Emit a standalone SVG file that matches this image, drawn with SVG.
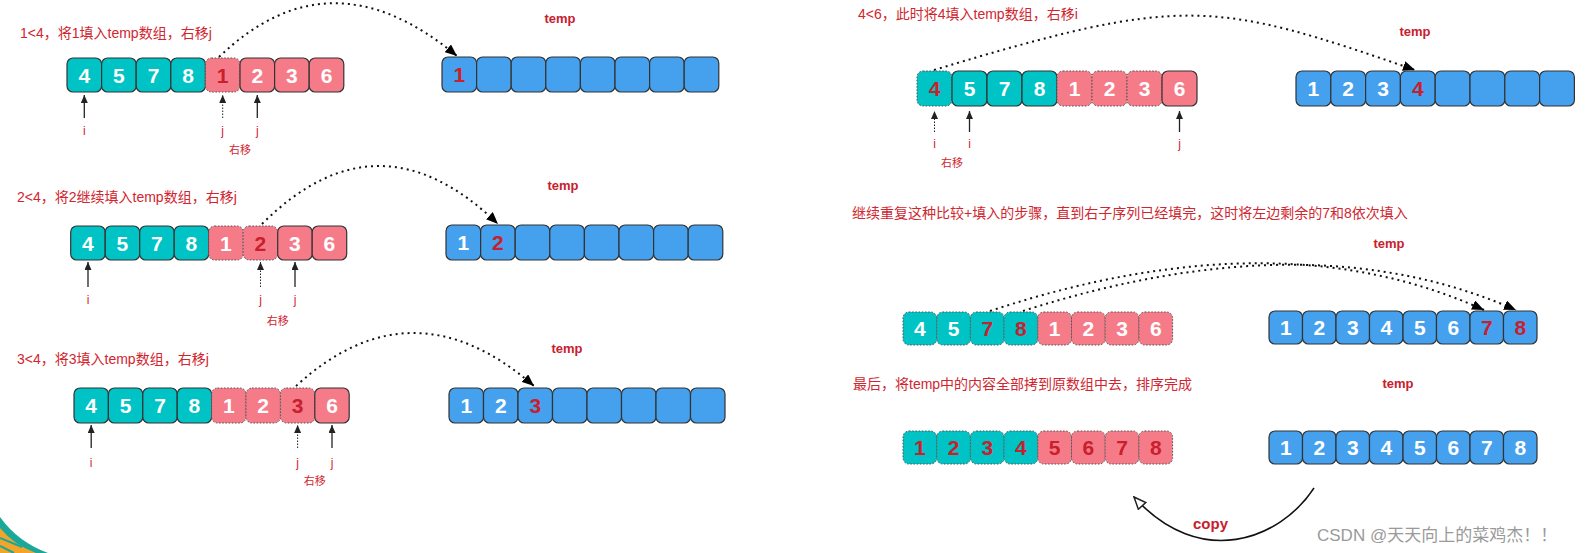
<svg xmlns="http://www.w3.org/2000/svg" width="1595" height="553" viewBox="0 0 1595 553">
<style>
rect{stroke:#333;stroke-width:1.2}
.t{fill:#00C3C5}.p{fill:#F67B88}.b{fill:#45A0EE}
.d{stroke-dasharray:1.6 1.6;stroke-width:1;stroke:#555}
.n{font:bold 21px "Liberation Sans",sans-serif;fill:#fff;text-anchor:middle}
.r{fill:#C8202D}
.ttl{font-size:14px;fill:#D0262F;font-family:"Liberation Sans","Noto Sans CJK SC",sans-serif}
.tmp{font:bold 13px "Liberation Sans",sans-serif;fill:#C8202D;text-anchor:middle}
.lb{font-size:12px;fill:#D0262F;text-anchor:middle;font-family:"Liberation Sans","Noto Sans CJK SC",sans-serif}
.sm{font-size:11px}
.cv{fill:none;stroke:#111;stroke-width:2;stroke-dasharray:2 4;marker-end:url(#ah)}
.pt{stroke:#222;stroke-width:1.3;fill:none;marker-end:url(#pa)}
.dt{stroke-dasharray:1.5 1.5;stroke-width:1}
.cp{fill:none;stroke:#111;stroke-width:1.6;marker-end:url(#oa)}
</style>
<defs>
<marker id="ah" viewBox="0 0 12 10" markerWidth="12" markerHeight="10" refX="12" refY="5" orient="auto" markerUnits="userSpaceOnUse"><path d="M0,0 L12,5 L0,10 Z" fill="#000"/></marker>
<marker id="pa" viewBox="0 0 8 7" markerWidth="8" markerHeight="7" refX="8" refY="3.5" orient="auto" markerUnits="userSpaceOnUse"><path d="M0,0 L8,3.5 L0,7 Z" fill="#222"/></marker>
<marker id="oa" viewBox="0 0 14 12" markerWidth="14" markerHeight="12" refX="13" refY="6" orient="auto" markerUnits="userSpaceOnUse"><path d="M1,1 L13,6 L1,11 Z" fill="#fff" stroke="#222" stroke-width="1.5"/></marker>
</defs>
<g id="corner">
<path d="M0,517 Q18,542 48,553 L0,553 Z" fill="#1AA89A" stroke="none"/>
<path d="M0,528 Q14,545 36,553 L0,553 Z" fill="#F4A428" stroke="none"/>
<path d="M0,538 L22,547 M0,546 L14,553" stroke="#1AA89A" stroke-width="2"/>
</g>

<g id="texts">
<text class="ttl" x="20" y="38">1&lt;4，将1填入temp数组，右移j</text>
<text class="ttl" x="17" y="202">2&lt;4，将2继续填入temp数组，右移j</text>
<text class="ttl" x="17" y="364">3&lt;4，将3填入temp数组，右移j</text>
<text class="ttl" x="858" y="19">4&lt;6，此时将4填入temp数组，右移i</text>
<text class="ttl" x="852" y="218">继续重复这种比较+填入的步骤，直到右子序列已经填完，这时将左边剩余的7和8依次填入</text>
<text class="ttl" x="853" y="389">最后，将temp中的内容全部拷到原数组中去，排序完成</text>
<text class="tmp" x="560" y="23">temp</text>
<text class="tmp" x="563" y="190">temp</text>
<text class="tmp" x="567" y="353">temp</text>
<text class="tmp" x="1415" y="36">temp</text>
<text class="tmp" x="1389" y="248">temp</text>
<text class="tmp" x="1398" y="388">temp</text>
<text class="lb" x="84.3" y="135">i</text><text class="lb" x="222.7" y="135">j</text><text class="lb" x="257.3" y="135">j</text><text class="lb sm" x="240" y="154">右移</text>
<text class="lb" x="88" y="304">i</text><text class="lb" x="260.5" y="304">j</text><text class="lb" x="295" y="304">j</text><text class="lb sm" x="277.7" y="325">右移</text>
<text class="lb" x="91.2" y="467">i</text><text class="lb" x="297.6" y="467">j</text><text class="lb" x="332" y="467">j</text><text class="lb sm" x="314.8" y="485">右移</text>
<text class="lb" x="934.5" y="148">i</text><text class="lb" x="969.5" y="148">i</text><text class="lb" x="1179.5" y="148">j</text><text class="lb sm" x="952" y="167">右移</text>
<text x="1193" y="529" style="font:bold 15px 'Liberation Sans',sans-serif;fill:#C8202D">copy</text>
<text x="1317" y="541" style="font-size:17px;fill:#9a9a9a;font-family:'Liberation Sans','Noto Sans CJK SC',sans-serif">CSDN @天天向上的菜鸡杰！！</text>
</g>

<g id="connectors">
<path class="cv" d="M219,57 Q330,-50 457,56"/>
<path class="cv" d="M262,224 Q378,108 498,224"/>
<path class="cv" d="M296,386 Q412,280 534,386"/>
<path class="cv" d="M934,70 C1183,-5 1213,0 1415,70"/>
<path class="cv" d="M990,311 C1190,245 1352,250 1484,310"/>
<path class="cv" d="M1023,311 C1223,247 1384,252 1516,310"/>
<path class="pt" d="M84.3,118 L84.3,95"/>
<path class="pt dt" d="M222.7,118 L222.7,95"/>
<path class="pt" d="M257.3,118 L257.3,95"/>
<path class="pt" d="M88,287 L88,262"/>
<path class="pt dt" d="M260.5,287 L260.5,262"/>
<path class="pt" d="M295,287 L295,262"/>
<path class="pt" d="M91.2,448 L91.2,425"/>
<path class="pt dt" d="M297.6,448 L297.6,425"/>
<path class="pt" d="M332,448 L332,425"/>
<path class="pt dt" d="M934.5,132 L934.5,111"/>
<path class="pt" d="M969.5,132 L969.5,111"/>
<path class="pt" d="M1179.5,132 L1179.5,111"/>
<path class="cp" d="M1314,488 C1280,540 1200,570 1134,497"/>
</g>

<g id="arr1">
<g id="a1c1"><rect class="t" x="67" y="58" width="34.6" height="34" rx="6"/><text class="n" x="84.3" y="82.5">4</text></g>
<g id="a1c2"><rect class="t" x="101.6" y="58" width="34.6" height="34" rx="6"/><text class="n" x="118.9" y="82.5">5</text></g>
<g id="a1c3"><rect class="t" x="136.2" y="58" width="34.6" height="34" rx="6"/><text class="n" x="153.5" y="82.5">7</text></g>
<g id="a1c4"><rect class="t" x="170.8" y="58" width="34.6" height="34" rx="6"/><text class="n" x="188.1" y="82.5">8</text></g>
<g id="a1c5"><rect class="p d" x="205.4" y="58" width="34.6" height="34" rx="6"/><text class="n r" x="222.7" y="82.5">1</text></g>
<g id="a1c6"><rect class="p" x="240" y="58" width="34.6" height="34" rx="6"/><text class="n" x="257.3" y="82.5">2</text></g>
<g id="a1c7"><rect class="p" x="274.6" y="58" width="34.6" height="34" rx="6"/><text class="n" x="291.9" y="82.5">3</text></g>
<g id="a1c8"><rect class="p" x="309.2" y="58" width="34.6" height="34" rx="6"/><text class="n" x="326.5" y="82.5">6</text></g>
</g>
<g id="tmp1">
<g id="t1c1"><rect class="b" x="442" y="57" width="34.6" height="35" rx="6"/><text class="n r" x="459.3" y="82">1</text></g>
<g id="t1c2"><rect class="b" x="476.6" y="57" width="34.6" height="35" rx="6"/></g>
<g id="t1c3"><rect class="b" x="511.2" y="57" width="34.6" height="35" rx="6"/></g>
<g id="t1c4"><rect class="b" x="545.8" y="57" width="34.6" height="35" rx="6"/></g>
<g id="t1c5"><rect class="b" x="580.4" y="57" width="34.6" height="35" rx="6"/></g>
<g id="t1c6"><rect class="b" x="615" y="57" width="34.6" height="35" rx="6"/></g>
<g id="t1c7"><rect class="b" x="649.6" y="57" width="34.6" height="35" rx="6"/></g>
<g id="t1c8"><rect class="b" x="684.2" y="57" width="34.6" height="35" rx="6"/></g>
</g>

<g id="arr2">
<g id="a2c1"><rect class="t" x="70.7" y="226" width="34.5" height="34" rx="6"/><text class="n" x="87.95" y="250.5">4</text></g>
<g id="a2c2"><rect class="t" x="105.2" y="226" width="34.5" height="34" rx="6"/><text class="n" x="122.45" y="250.5">5</text></g>
<g id="a2c3"><rect class="t" x="139.7" y="226" width="34.5" height="34" rx="6"/><text class="n" x="156.95" y="250.5">7</text></g>
<g id="a2c4"><rect class="t" x="174.2" y="226" width="34.5" height="34" rx="6"/><text class="n" x="191.45" y="250.5">8</text></g>
<g id="a2c5"><rect class="p d" x="208.7" y="226" width="34.5" height="34" rx="6"/><text class="n" x="225.95" y="250.5">1</text></g>
<g id="a2c6"><rect class="p d" x="243.2" y="226" width="34.5" height="34" rx="6"/><text class="n r" x="260.45" y="250.5">2</text></g>
<g id="a2c7"><rect class="p" x="277.7" y="226" width="34.5" height="34" rx="6"/><text class="n" x="294.95" y="250.5">3</text></g>
<g id="a2c8"><rect class="p" x="312.2" y="226" width="34.5" height="34" rx="6"/><text class="n" x="329.45" y="250.5">6</text></g>
</g>
<g id="tmp2">
<g id="t2c1"><rect class="b" x="446" y="225" width="34.6" height="35" rx="6"/><text class="n" x="463.3" y="250">1</text></g>
<g id="t2c2"><rect class="b" x="480.6" y="225" width="34.6" height="35" rx="6"/><text class="n r" x="497.9" y="250">2</text></g>
<g id="t2c3"><rect class="b" x="515.2" y="225" width="34.6" height="35" rx="6"/></g>
<g id="t2c4"><rect class="b" x="549.8" y="225" width="34.6" height="35" rx="6"/></g>
<g id="t2c5"><rect class="b" x="584.4" y="225" width="34.6" height="35" rx="6"/></g>
<g id="t2c6"><rect class="b" x="619" y="225" width="34.6" height="35" rx="6"/></g>
<g id="t2c7"><rect class="b" x="653.6" y="225" width="34.6" height="35" rx="6"/></g>
<g id="t2c8"><rect class="b" x="688.2" y="225" width="34.6" height="35" rx="6"/></g>
</g>

<g id="arr3">
<g id="a3c1"><rect class="t" x="74" y="388" width="34.4" height="35" rx="6"/><text class="n" x="91.2" y="413">4</text></g>
<g id="a3c2"><rect class="t" x="108.4" y="388" width="34.4" height="35" rx="6"/><text class="n" x="125.6" y="413">5</text></g>
<g id="a3c3"><rect class="t" x="142.8" y="388" width="34.4" height="35" rx="6"/><text class="n" x="160" y="413">7</text></g>
<g id="a3c4"><rect class="t" x="177.2" y="388" width="34.4" height="35" rx="6"/><text class="n" x="194.4" y="413">8</text></g>
<g id="a3c5"><rect class="p d" x="211.6" y="388" width="34.4" height="35" rx="6"/><text class="n" x="228.8" y="413">1</text></g>
<g id="a3c6"><rect class="p d" x="246" y="388" width="34.4" height="35" rx="6"/><text class="n" x="263.2" y="413">2</text></g>
<g id="a3c7"><rect class="p d" x="280.4" y="388" width="34.4" height="35" rx="6"/><text class="n r" x="297.6" y="413">3</text></g>
<g id="a3c8"><rect class="p" x="314.8" y="388" width="34.4" height="35" rx="6"/><text class="n" x="332" y="413">6</text></g>
</g>
<g id="tmp3">
<g id="t3c1"><rect class="b" x="449" y="388" width="34.5" height="35" rx="6"/><text class="n" x="466.25" y="413">1</text></g>
<g id="t3c2"><rect class="b" x="483.5" y="388" width="34.5" height="35" rx="6"/><text class="n" x="500.75" y="413">2</text></g>
<g id="t3c3"><rect class="b" x="518" y="388" width="34.5" height="35" rx="6"/><text class="n r" x="535.25" y="413">3</text></g>
<g id="t3c4"><rect class="b" x="552.5" y="388" width="34.5" height="35" rx="6"/></g>
<g id="t3c5"><rect class="b" x="587" y="388" width="34.5" height="35" rx="6"/></g>
<g id="t3c6"><rect class="b" x="621.5" y="388" width="34.5" height="35" rx="6"/></g>
<g id="t3c7"><rect class="b" x="656" y="388" width="34.5" height="35" rx="6"/></g>
<g id="t3c8"><rect class="b" x="690.5" y="388" width="34.5" height="35" rx="6"/></g>
</g>

<g id="arr4">
<g id="a4c1"><rect class="t d" x="917" y="71" width="35" height="35" rx="6"/><text class="n r" x="934.5" y="96">4</text></g>
<g id="a4c2"><rect class="t" x="952" y="71" width="35" height="35" rx="6"/><text class="n" x="969.5" y="96">5</text></g>
<g id="a4c3"><rect class="t" x="987" y="71" width="35" height="35" rx="6"/><text class="n" x="1004.5" y="96">7</text></g>
<g id="a4c4"><rect class="t" x="1022" y="71" width="35" height="35" rx="6"/><text class="n" x="1039.5" y="96">8</text></g>
<g id="a4c5"><rect class="p d" x="1057" y="71" width="35" height="35" rx="6"/><text class="n" x="1074.5" y="96">1</text></g>
<g id="a4c6"><rect class="p d" x="1092" y="71" width="35" height="35" rx="6"/><text class="n" x="1109.5" y="96">2</text></g>
<g id="a4c7"><rect class="p d" x="1127" y="71" width="35" height="35" rx="6"/><text class="n" x="1144.5" y="96">3</text></g>
<g id="a4c8"><rect class="p" x="1162" y="71" width="35" height="35" rx="6"/><text class="n" x="1179.5" y="96">6</text></g>
</g>
<g id="tmp4">
<g id="t4c1"><rect class="b" x="1296" y="71" width="34.8" height="35" rx="6"/><text class="n" x="1313.4" y="96">1</text></g>
<g id="t4c2"><rect class="b" x="1330.8" y="71" width="34.8" height="35" rx="6"/><text class="n" x="1348.2" y="96">2</text></g>
<g id="t4c3"><rect class="b" x="1365.6" y="71" width="34.8" height="35" rx="6"/><text class="n" x="1383" y="96">3</text></g>
<g id="t4c4"><rect class="b" x="1400.4" y="71" width="34.8" height="35" rx="6"/><text class="n r" x="1417.8" y="96">4</text></g>
<g id="t4c5"><rect class="b" x="1435.2" y="71" width="34.8" height="35" rx="6"/></g>
<g id="t4c6"><rect class="b" x="1470" y="71" width="34.8" height="35" rx="6"/></g>
<g id="t4c7"><rect class="b" x="1504.8" y="71" width="34.8" height="35" rx="6"/></g>
<g id="t4c8"><rect class="b" x="1539.6" y="71" width="34.8" height="35" rx="6"/></g>
</g>

<g id="arr5">
<g id="a5c1"><rect class="t d" x="903" y="312" width="33.7" height="33" rx="6"/><text class="n" x="919.85" y="335.5">4</text></g>
<g id="a5c2"><rect class="t d" x="936.7" y="312" width="33.7" height="33" rx="6"/><text class="n" x="953.55" y="335.5">5</text></g>
<g id="a5c3"><rect class="t d" x="970.4" y="312" width="33.7" height="33" rx="6"/><text class="n r" x="987.25" y="335.5">7</text></g>
<g id="a5c4"><rect class="t d" x="1004.1" y="312" width="33.7" height="33" rx="6"/><text class="n r" x="1020.95" y="335.5">8</text></g>
<g id="a5c5"><rect class="p d" x="1037.8" y="312" width="33.7" height="33" rx="6"/><text class="n" x="1054.65" y="335.5">1</text></g>
<g id="a5c6"><rect class="p d" x="1071.5" y="312" width="33.7" height="33" rx="6"/><text class="n" x="1088.35" y="335.5">2</text></g>
<g id="a5c7"><rect class="p d" x="1105.2" y="312" width="33.7" height="33" rx="6"/><text class="n" x="1122.05" y="335.5">3</text></g>
<g id="a5c8"><rect class="p d" x="1138.9" y="312" width="33.7" height="33" rx="6"/><text class="n" x="1155.75" y="335.5">6</text></g>
</g>
<g id="tmp5">
<g id="t5c1"><rect class="b" x="1269" y="311" width="33.5" height="33" rx="6"/><text class="n" x="1285.75" y="334.5">1</text></g>
<g id="t5c2"><rect class="b" x="1302.5" y="311" width="33.5" height="33" rx="6"/><text class="n" x="1319.25" y="334.5">2</text></g>
<g id="t5c3"><rect class="b" x="1336" y="311" width="33.5" height="33" rx="6"/><text class="n" x="1352.75" y="334.5">3</text></g>
<g id="t5c4"><rect class="b" x="1369.5" y="311" width="33.5" height="33" rx="6"/><text class="n" x="1386.25" y="334.5">4</text></g>
<g id="t5c5"><rect class="b" x="1403" y="311" width="33.5" height="33" rx="6"/><text class="n" x="1419.75" y="334.5">5</text></g>
<g id="t5c6"><rect class="b" x="1436.5" y="311" width="33.5" height="33" rx="6"/><text class="n" x="1453.25" y="334.5">6</text></g>
<g id="t5c7"><rect class="b" x="1470" y="311" width="33.5" height="33" rx="6"/><text class="n r" x="1486.75" y="334.5">7</text></g>
<g id="t5c8"><rect class="b" x="1503.5" y="311" width="33.5" height="33" rx="6"/><text class="n r" x="1520.25" y="334.5">8</text></g>
</g>

<g id="arr6">
<g id="a6c1"><rect class="t d" x="903" y="431" width="33.7" height="33" rx="6"/><text class="n r" x="919.85" y="454.5">1</text></g>
<g id="a6c2"><rect class="t d" x="936.7" y="431" width="33.7" height="33" rx="6"/><text class="n r" x="953.55" y="454.5">2</text></g>
<g id="a6c3"><rect class="t d" x="970.4" y="431" width="33.7" height="33" rx="6"/><text class="n r" x="987.25" y="454.5">3</text></g>
<g id="a6c4"><rect class="t d" x="1004.1" y="431" width="33.7" height="33" rx="6"/><text class="n r" x="1020.95" y="454.5">4</text></g>
<g id="a6c5"><rect class="p d" x="1037.8" y="431" width="33.7" height="33" rx="6"/><text class="n r" x="1054.65" y="454.5">5</text></g>
<g id="a6c6"><rect class="p d" x="1071.5" y="431" width="33.7" height="33" rx="6"/><text class="n r" x="1088.35" y="454.5">6</text></g>
<g id="a6c7"><rect class="p d" x="1105.2" y="431" width="33.7" height="33" rx="6"/><text class="n r" x="1122.05" y="454.5">7</text></g>
<g id="a6c8"><rect class="p d" x="1138.9" y="431" width="33.7" height="33" rx="6"/><text class="n r" x="1155.75" y="454.5">8</text></g>
</g>
<g id="tmp6">
<g id="t6c1"><rect class="b" x="1269" y="431" width="33.5" height="33" rx="6"/><text class="n" x="1285.75" y="454.5">1</text></g>
<g id="t6c2"><rect class="b" x="1302.5" y="431" width="33.5" height="33" rx="6"/><text class="n" x="1319.25" y="454.5">2</text></g>
<g id="t6c3"><rect class="b" x="1336" y="431" width="33.5" height="33" rx="6"/><text class="n" x="1352.75" y="454.5">3</text></g>
<g id="t6c4"><rect class="b" x="1369.5" y="431" width="33.5" height="33" rx="6"/><text class="n" x="1386.25" y="454.5">4</text></g>
<g id="t6c5"><rect class="b" x="1403" y="431" width="33.5" height="33" rx="6"/><text class="n" x="1419.75" y="454.5">5</text></g>
<g id="t6c6"><rect class="b" x="1436.5" y="431" width="33.5" height="33" rx="6"/><text class="n" x="1453.25" y="454.5">6</text></g>
<g id="t6c7"><rect class="b" x="1470" y="431" width="33.5" height="33" rx="6"/><text class="n" x="1486.75" y="454.5">7</text></g>
<g id="t6c8"><rect class="b" x="1503.5" y="431" width="33.5" height="33" rx="6"/><text class="n" x="1520.25" y="454.5">8</text></g>
</g>
</svg>
